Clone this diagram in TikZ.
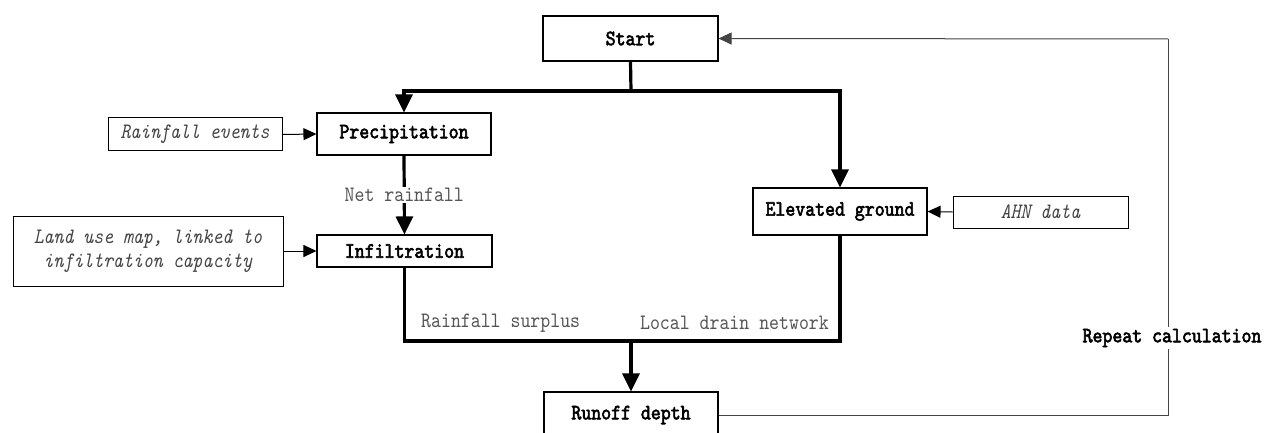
\documentclass[tikz,border=0pt]{standalone}
\usepackage{fontspec}
\usetikzlibrary{arrows.meta}
\newfontfamily\monoreg{lmmono10-regular.otf}[ItalicFont=lmmono10-italic.otf, FakeStretch=0.86]
\newfontfamily\monobold{lmmono10-regular.otf}[FakeBold=2.6, FakeStretch=0.86]
\definecolor{labelgray}{HTML}{555555}
\definecolor{inputgray}{HTML}{444444}
\definecolor{loopgray}{HTML}{444444}
\tikzset{
  stepbox/.style={draw=black, line width=1.1pt, inner sep=0pt, align=center,
    font=\monobold\fontsize{22}{24}\selectfont},
  inputbox/.style={draw=black, line width=1pt, inner sep=0pt, align=center,
    text=inputgray, font=\monoreg\itshape\fontsize{22}{24}\selectfont},
  flowlabel/.style={text=labelgray, font=\monoreg\fontsize{22}{24}\selectfont, inner sep=1pt},
  mainline/.style={line width=3.2pt},
  mainarrow/.style={line width=3.2pt, -{Triangle[length=18pt,width=17pt]}},
  feedarrow/.style={line width=1pt, -{Triangle[length=13pt,width=12pt]}},
  loopline/.style={line width=1pt, draw=loopgray}
}
\begin{document}
\begin{tikzpicture}[x=1pt, y=-1pt]
\useasboundingbox (0,0) rectangle (1264,433);

% process boxes
\node[stepbox, minimum width=175pt, minimum height=45pt] (start)  at (630.5,38.5) {Start};
\node[stepbox, minimum width=174pt, minimum height=42pt] (precip) at (404,134)    {Precipitation};
\node[stepbox, minimum width=175pt, minimum height=32pt] (infil)  at (404.5,251)  {Infiltration};
\node[stepbox, minimum width=174pt, minimum height=47pt] (elev)   at (840,211.5)  {Elevated ground};
\node[stepbox, minimum width=174pt, minimum height=46pt] (runoff) at (631,415)     {Runoff depth};

% input data boxes
\node[inputbox, minimum width=174pt, minimum height=33pt] (rain) at (195,134.5) {Rainfall events};
\node[inputbox, minimum width=270pt, minimum height=70pt] (land) at (148,251)
  {Land use map, linked to\\infiltration capacity};
\node[inputbox, minimum width=175pt, minimum height=32pt] (ahn) at (1040.5,212) {AHN data};

% junction points of the main flow
\coordinate (split) at (631,91);
\coordinate (merge) at (631,341);
\coordinate (loopbot) at (1168,415);
\coordinate (looptop) at (1168,39);

% split from Start
\draw[mainline] (start.south) -- (split);
\draw[mainarrow] (split) -| (precip.north);
\draw[mainarrow] (split) -| (elev.north);

% precipitation to infiltration
\draw[mainarrow] (precip.south) -- node[flowlabel, fill=white, pos=0.5] {Net rainfall} (infil.north);

% merge into runoff depth
\draw[mainline] (infil.south) -- (infil.south |- merge) -- (elev.south |- merge) -- (elev.south);
\draw[mainarrow] (merge) -- (runoff.north);
\node[flowlabel, anchor=west] (surplus) at (420,323) {Rainfall surplus};
\node[flowlabel, anchor=east] (drain) at (830,323) {Local drain network};

% inputs
\draw[feedarrow] (rain.east) -- (precip.west);
\draw[feedarrow] (land.east) -- (infil.west);
\draw[feedarrow] (ahn.west) -- (elev.east);

% repeat loop
\draw[loopline] (runoff.east) -- (loopbot) -- (looptop);
\draw[loopline, feedarrow] (looptop) -- (start.east);
\node[font=\monobold\fontsize{22}{24}\selectfont, fill=white, inner sep=2pt] (repeat) at (1172,338) {Repeat calculation};
\end{tikzpicture}
\end{document}
